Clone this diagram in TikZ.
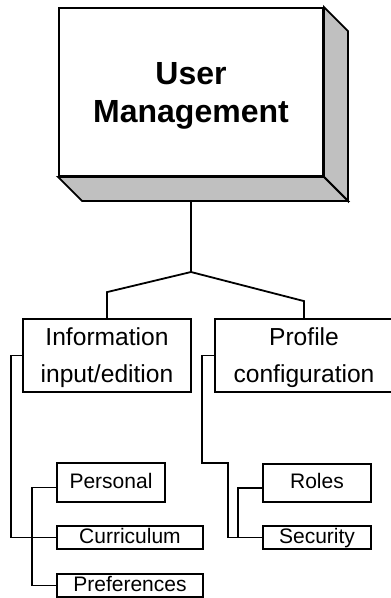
\documentclass[tikz,border=0pt]{standalone}
\usepackage{fontspec}
\setmainfont{Liberation Sans}
\definecolor{shade}{RGB}{192,192,192}

\begin{document}
\begin{tikzpicture}
        [%%%%%%%%%%%%%%%%%%%%%%%%%%%%%%
        x=1pt, y=-1pt, line width=1.8pt,
        box/.style={draw=black, fill=white, inner sep=0pt, align=center},
        mainbox/.style={box, minimum width=264pt, minimum height=168pt, text depth=0pt,
          font=\bfseries\fontsize{32}{38}\selectfont},
        midbox/.style={box, minimum width=168pt, minimum height=73pt, text depth=0pt,
          font=\fontsize{24.6}{37}\selectfont},
        leafbox/.style={box, minimum height=23pt, text height=15pt, text depth=4pt,
          font=\fontsize{21}{25}\selectfont},
        side/.style={draw=black, fill=shade},
        ]%%%%%%%%%%%%%%%%%%%%%%%%%%%%%%
        \useasboundingbox (0,0) rectangle (391,598);
        % Main block with its depth
        \node[mainbox] (um) at (191,92) {User\\Management};
        \draw[side] (um.north east) -- ++(24,24) -- ([shift={(24,24)}]um.south east) -- (um.south east) -- cycle;
        \draw[side] (um.south west) -- (um.south east) -- ++(24,24) -- ([shift={(24,24)}]um.south west) -- cycle;
        % Second level
        \node[midbox] (info) at (107,355.5) {Information\\input/edition};
        \node[midbox, minimum width=178pt] (prof) at (304,355.5) {Profile\\configuration};
        % Leaves
        \node[leafbox, minimum width=108pt, minimum height=39pt] (pers) at (111,482.5) {Personal};
        \node[leafbox, minimum width=146pt] (curr) at (130,537.5) {Curriculum};
        \node[leafbox, minimum width=146pt] (pref) at (130,585.5) {Preferences};
        \node[leafbox, minimum width=108pt, minimum height=38pt] (roles) at (317,483) {Roles};
        \node[leafbox, minimum width=108pt] (sec) at (317,537.5) {Security};
        % Connectors
        \coordinate (split) at (191,272);
        \coordinate (pbend) at (228,463);
        \draw ([yshift=-24pt]um.south) -- (split);
        \draw (info.north) -- ++(0,-26) -- (split) -- ([yshift=17pt]prof.north) -- (prof.north);
        \draw (info.west) -- ++(-11,0) |- (curr.west);
        \draw ([yshift=-5pt]pers.west) -- ++(-24,0) |- (pref.west);
        \draw (prof.west) -- ++(-12,0) |- (pbend) |- (sec.west);
        \draw ([yshift=-5pt]roles.west) -- ++(-24,0) |- (sec.west);
\end{tikzpicture}
\end{document}
